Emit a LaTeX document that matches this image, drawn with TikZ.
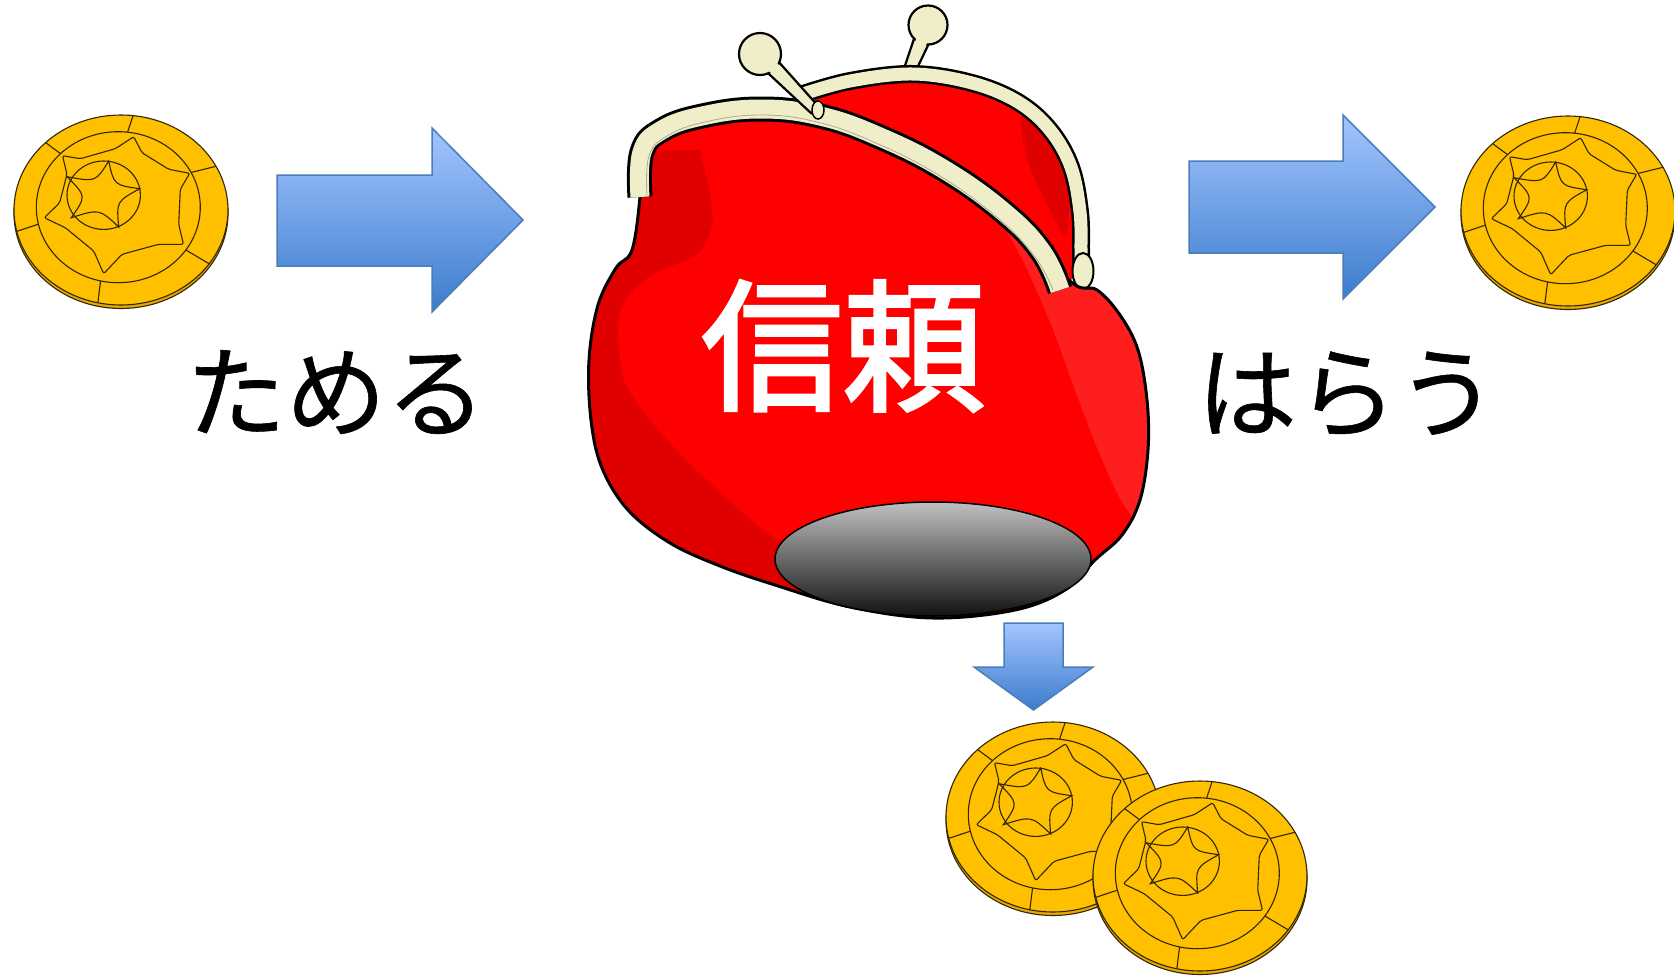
\documentclass[tikz,border=0pt]{standalone}
\usepackage{fontspec}
\newfontfamily\jplabel[FakeBold=0.6]{Noto Sans CJK JP}
\newfontfamily\jptrust[FakeBold=2.4]{Noto Sans CJK JP}
\usetikzlibrary{calc}
\definecolor{coingold}{RGB}{255,192,0}
\definecolor{coinrim}{RGB}{232,168,0}
\definecolor{coinline}{RGB}{50,38,8}
\definecolor{cream}{RGB}{240,238,200}
\definecolor{pursered}{RGB}{255,0,0}
\definecolor{pursedark}{RGB}{224,0,0}
\definecolor{purselight}{RGB}{255,30,30}
\definecolor{arrowtop}{RGB}{163,197,255}
\definecolor{arrowbot}{RGB}{60,124,204}
\definecolor{arrowline}{RGB}{74,126,187}
\newcommand\labelfont{\jplabel\fontsize{100}{105}\selectfont}
\newcommand\trustfont{\jptrust\fontsize{142}{150}\selectfont}
\newcommand\pursebody{plot[smooth cycle, tension=0.6] coordinates {(640,197) (632,250) (616,268) (598,305) (589,360) (591,420) (602,468) (628,510) (670,543) (720,566) (775,585) (850,607) (933,618) (1015,610) (1065,590) (1095,560) (1122,535) (1140,500) (1148,450) (1147,400) (1138,350) (1120,315) (1097,290) (1075,285) (1042,252) (1005,213) (945,170) (880,137) (820,116) (760,109) (702,116) (662,130) (642,152)}}
\begin{document}
\begin{tikzpicture}[x=1pt,y=-1pt,
  coinstroke/.style={draw=coinline, line width=1.1pt},
  blockarrow/.style={draw=arrowline, line width=1.5pt, top color=arrowtop, bottom color=arrowbot},
  frontframe/.style={double=cream, double distance=19pt, line width=3pt},
  backframe/.style={double=cream, double distance=13pt, line width=2.5pt},
  knobpart/.style={fill=cream, draw=black, line width=2.2pt, line join=round},
  coin/.pic={
    % edge of the coin, then its face
    \path[coinstroke, fill=coinrim] (0,3.5) ellipse [x radius=107, y radius=95];
    \path[coinstroke, fill=coingold] (0,0) ellipse [x radius=107, y radius=95];
    % inner ring and its dividers
    \path[coinstroke] (-2.7,-2.8) ellipse [x radius=82, y radius=75.5];
    \foreach \ang in {-83.5,-134.8,167,102.5,34.5,-27.4}
      \draw[coinstroke] ({-2.7+82*cos(\ang)},{-2.8+75.5*sin(\ang)}) -- ({107*cos(\ang)},{95*sin(\ang)});
    % six-pointed band
    \path[coinstroke, fill=coingold, rounded corners=2]
      (-5.7,-61.3) -- (12.7,-73.3) -- (21,-57.3) -- (47.7,-40.7) -- (68.7,-36.7) -- (59.3,-20.7)
      -- (57.7,14.3) -- (62.5,34.3) -- (37.7,34.3) -- (1,44.3) -- (-17.3,63.7) -- (-27.3,41)
      -- (-55.7,17.7) -- (-76.7,7.7) -- (-61.3,-7.3) -- (-54,-35.7) -- (-58.5,-54.3) -- (-40.7,-51.3) -- cycle;
    % central medallion with a star
    \path[coinstroke, fill=coingold] (-17.3,-14.8) ellipse [x radius=36.7, y radius=34.2];
    \path[coinstroke]
      (-12.3,-49) .. controls (-7.05,-24.98) .. (18.7,-21.3)
      .. controls (-4.55,-8.48) .. (-2.3,17)
      .. controls (-21.65,-1.23) .. (-49.7,7.7)
      .. controls (-34.58,-13.8) .. (-54,-33.3)
      .. controls (-25.23,-27.98) .. cycle;
  }]
\fill[white] (0,0) rectangle (1674,978);
\useasboundingbox (0,0) rectangle (1674,978);

% coins
\pic (coinIn) at (121,210) {coin};
\pic (coinOut) at (1568,211) {coin};
\pic (coinDropA) at (1053,817) {coin};
\pic (coinDropB) at (1200,876) {coin};

% block arrows
\path[blockarrow] (277,175) -- (432,175) -- (432,128) -- (523,220) -- (432,312) -- (432,266) -- (277,266) -- cycle;
\path[blockarrow] (1189,161) -- (1343,161) -- (1343,115) -- (1435,207) -- (1343,299) -- (1343,253) -- (1189,253) -- cycle;
\path[blockarrow] (1004,623) -- (1063,623) -- (1063,667) -- (1093,667) -- (1033.5,710) -- (974,667) -- (1004,667) -- cycle;

% purse: right knob, behind the clasp
\path[knobpart] (930.1,41.0) -- (908.6,85.9) -- (899.4,82.1) -- (915.3,35.0) -- cycle;
\path[knobpart] (928,25) circle (19.5);
\fill[cream] (929.1,38.4) -- (924.1,49.3) -- (913.9,45.1) -- (917.9,33.8) -- cycle;

% inside of the purse
\fill[pursered] plot[smooth, tension=0.7] coordinates {(805,95) (860,78) (930,73) (995,88) (1042,118) (1072,158) (1082,200) (1082,270)} -- (1062,288) -- (947,167) -- (820,115) -- cycle;
\fill[pursedark] plot[smooth cycle] coordinates {(1022,116) (1054,144) (1068,190) (1066,236) (1050,210) (1028,162)};

% back half of the clasp
\draw[backframe] plot[smooth, tension=0.6] coordinates {(800,95) (850,81) (913,74) (972,83) (1018,102) (1050,130) (1071,167) (1080,212) (1081,250) (1081,272)};
\draw[fill=cream, line width=2pt] (1083,271) ellipse [x radius=10.5, y radius=18];

% body
\fill[pursered] \pursebody;
\begin{scope}
  \clip \pursebody;
  \fill[pursedark] plot[smooth] coordinates {(700,150) (710,195) (712,226) (696,255) (650,276) (620,312) (624,380) (660,432) (712,485) (775,538) (855,580) (940,602)} -- (940,700) -- (560,700) -- (560,150) -- cycle;
  \fill[purselight] plot[smooth] coordinates {(985,195) (1020,255) (1050,322) (1075,390) (1098,450) (1118,495) (1134,520)} -- (1200,520) -- (1200,160) -- cycle;
\end{scope}
\draw[line width=3pt] \pursebody;

% front half of the clasp
\draw[frontframe] plot[smooth, tension=0.7] coordinates {(640,197) (642,152) (662,130) (702,116) (760,109) (820,116) (880,137) (945,170) (1005,213) (1042,252) (1060,290)};
\draw[cream!72!black, line width=0.8pt] plot[smooth, tension=0.7] coordinates {(647,195) (649,156) (667,136) (705,122) (760,115) (817,122) (876,143) (940,176) (999,219) (1035,257) (1053,290)};

% left knob and its hinge
\path[knobpart] (775.5,58.3) -- (818.55,106.5) -- (811.45,113.5) -- (764.1,69.5) -- cycle;
\path[knobpart] (760,54) circle (21);
\fill[cream] (772.7,58.3) -- (780.7,67.2) -- (772.9,74.9) -- (764.1,66.7) -- cycle;
\draw[fill=cream, line width=1.5pt] (818,110) ellipse [x radius=6, y radius=9];

% hole in the bottom
\path[draw=black, line width=1.5pt, top color={rgb,255:red,192;green,192;blue,192}, bottom color={rgb,255:red,18;green,18;blue,18}] (933,559) ellipse [x radius=158, y radius=57];

% labels
\node[text=white, font=\trustfont, inner sep=0] (trust) at (843,346) {信頼};
\node[font=\labelfont, inner sep=0] (save) at (336,392) {ためる};
\node[font=\labelfont, inner sep=0] (pay) at (1347,394) {はらう};
\end{tikzpicture}
\end{document}
